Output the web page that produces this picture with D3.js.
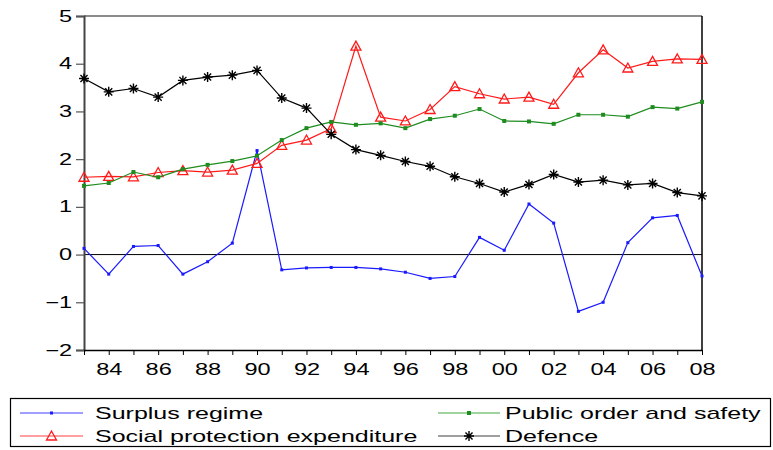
<!DOCTYPE html>
<meta charset="utf-8">
<head>
  <title>Expenditure series 1983-2008</title>
  <style>
    body { margin: 0; background: #fff; }
    text { font-family: Arial, "Liberation Sans", sans-serif; }
  </style>
</head>
<body>
  <script src="https://cdn.jsdelivr.net/npm/d3@7"></script>
  <div id="chart"></div>
  <script>
    // years 1983..2008
    var years = d3.range(1983, 2009);
    var xTickYears = d3.range(1984, 2009, 2);
    var yTicks = [-2, -1, 0, 1, 2, 3, 4, 5];

    var surplus = [0.13, -0.41, 0.17, 0.19, -0.41, -0.15, 0.24, 2.18, -0.32, -0.28,
                   -0.27, -0.27, -0.30, -0.37, -0.50, -0.46, 0.36, 0.09, 1.06, 0.66,
                   -1.19, -1.00, 0.25, 0.77, 0.82, -0.45];
    var social = [1.62, 1.64, 1.63, 1.72, 1.76, 1.73, 1.77, 1.91, 2.29, 2.40,
                  2.64, 4.37, 2.88, 2.80, 3.04, 3.52, 3.37, 3.26, 3.30, 3.15,
                  3.81, 4.29, 3.91, 4.05, 4.10, 4.09];
    var publicOrder = [1.44, 1.50, 1.73, 1.62, 1.79, 1.88, 1.96, 2.07, 2.40, 2.65,
                       2.78, 2.72, 2.75, 2.65, 2.84, 2.91, 3.05, 2.80, 2.79, 2.74,
                       2.93, 2.93, 2.89, 3.09, 3.06, 3.20];
    var defence = [3.69, 3.41, 3.48, 3.30, 3.65, 3.72, 3.76, 3.86, 3.28, 3.07,
                   2.52, 2.20, 2.08, 1.95, 1.85, 1.63, 1.49, 1.31, 1.47, 1.68,
                   1.52, 1.56, 1.46, 1.49, 1.30, 1.23];

    var series = [
      { name: 'Surplus regime', values: surplus, color: '#1a1aff', legendColor: '#7f7fff', marker: 'dot' },
      { name: 'Social protection expenditure', values: social, color: '#ff1a1a', legendColor: '#ff7f7f', marker: 'triangle' },
      { name: 'Public order and safety', values: publicOrder, color: '#1e8c1e', legendColor: '#7fc67f', marker: 'square' },
      { name: 'Defence', values: defence, color: '#000000', legendColor: '#7f7f7f', marker: 'star' }
    ];

    var width = 773, height = 450;
    var margin = { left: 84, top: 16, right: 71, bottom: 100 };
    var stretch = 1.47; // the original font is drawn wide

    function widen(sel) {
      sel.each(function() {
        var w = this.getComputedTextLength();
        if (w > 0) {
          d3.select(this).attr('textLength', w * stretch).attr('lengthAdjust', 'spacingAndGlyphs');
        }
      });
    }

    var svg = d3.select('#chart').append('svg')
      .attr('width', width)
      .attr('height', height);

    var x = d3.scaleLinear().domain([1983, 2008]).range([margin.left, width - margin.right]);
    var y = d3.scaleLinear().domain([-2, 5]).range([height - margin.bottom, margin.top]);

    // frame: top and right
    svg.append('line').attr('x1', x(1983)).attr('x2', x(2008))
      .attr('y1', y(5)).attr('y2', y(5)).attr('stroke', '#666').attr('stroke-width', 1.5);
    svg.append('line').attr('x1', x(2008)).attr('x2', x(2008))
      .attr('y1', y(5)).attr('y2', y(-2)).attr('stroke', '#000').attr('stroke-width', 1.5);

    // zero line
    svg.append('line').attr('x1', x(1983)).attr('x2', x(2008))
      .attr('y1', y(0)).attr('y2', y(0)).attr('stroke', '#000').attr('stroke-width', 1);

    // y axis
    var yAxis = svg.append('g')
      .attr('transform', 'translate(' + x(1983) + ',0)')
      .call(d3.axisLeft(y).tickValues(yTicks).tickFormat(d3.format('d')).tickSize(8).tickPadding(4));
    yAxis.select('.domain').attr('stroke', '#444').attr('stroke-width', 2);
    yAxis.selectAll('.tick line').attr('stroke', '#555').attr('stroke-width', 1.2);
    yAxis.selectAll('text').attr('font-size', 16).attr('fill', '#000')
      .style('font-family', 'Arial, "Liberation Sans", sans-serif')
      .call(widen);

    // x axis
    var xAxis = svg.append('g')
      .attr('transform', 'translate(0,' + y(-2) + ')')
      .call(d3.axisBottom(x).tickValues(years).tickSize(5).tickSizeOuter(0)
        .tickFormat(function(d) { return xTickYears.indexOf(d) >= 0 ? String(d).slice(2) : ''; }));
    xAxis.select('.domain').attr('stroke', '#000').attr('stroke-width', 1.5);
    xAxis.selectAll('.tick line').attr('stroke', '#000');
    xAxis.selectAll('text').attr('font-size', 16).attr('fill', '#000').attr('dy', '1.05em')
      .style('font-family', 'Arial, "Liberation Sans", sans-serif')
      .call(widen);

    var line = d3.line()
      .x(function(d, i) { return x(years[i]); })
      .y(function(d) { return y(d); });

    function drawMarker(g, type, color, cx, cy) {
      if (type === 'dot') {
        g.append('rect').attr('x', cx - 1.5).attr('y', cy - 1.5).attr('width', 3).attr('height', 3)
          .attr('fill', color);
      } else if (type === 'square') {
        g.append('rect').attr('x', cx - 2).attr('y', cy - 2).attr('width', 4).attr('height', 4)
          .attr('fill', color);
      } else if (type === 'triangle') {
        g.append('path')
          .attr('d', 'M' + cx + ',' + (cy - 5) + 'L' + (cx + 5) + ',' + (cy + 4) + 'L' + (cx - 5) + ',' + (cy + 4) + 'Z')
          .attr('fill', 'none').attr('stroke', color).attr('stroke-width', 1.3);
      } else if (type === 'star') {
        var r = 5;
        var p = '';
        [0, 45, 90, 135].forEach(function(a) {
          var rad = a * Math.PI / 180;
          var dx = r * Math.cos(rad), dy = r * Math.sin(rad);
          p += 'M' + (cx - dx) + ',' + (cy - dy) + 'L' + (cx + dx) + ',' + (cy + dy);
        });
        g.append('path').attr('d', p).attr('stroke', color).attr('stroke-width', 1.4).attr('fill', 'none');
      }
    }

    var plot = svg.append('g');
    series.forEach(function(s) {
      plot.append('path')
        .attr('d', line(s.values))
        .attr('fill', 'none')
        .attr('stroke', s.color)
        .attr('stroke-width', 1.2);
      var mg = plot.append('g');
      s.values.forEach(function(v, i) {
        drawMarker(mg, s.marker, s.color, x(years[i]), y(v));
      });
    });

    // legend
    var legend = svg.append('g');
    legend.append('rect')
      .attr('x', 10.5).attr('y', 398.5).attr('width', 760).attr('height', 48)
      .attr('fill', '#fff').attr('stroke', '#000').attr('stroke-width', 1.2);

    var legendPos = [
      { lx1: 20, lx2: 83, tx: 95, ty: 413 },
      { lx1: 20, lx2: 83, tx: 95, ty: 436 },
      { lx1: 438, lx2: 500, tx: 505, ty: 413 },
      { lx1: 438, lx2: 500, tx: 505, ty: 436 }
    ];
    series.forEach(function(s, i) {
      var p = legendPos[i];
      legend.append('line').attr('x1', p.lx1).attr('x2', p.lx2).attr('y1', p.ty).attr('y2', p.ty)
        .attr('stroke', s.legendColor).attr('stroke-width', 1.5);
      drawMarker(legend, s.marker, s.color, (p.lx1 + p.lx2) / 2, p.ty);
      legend.append('text')
        .attr('x', p.tx).attr('y', p.ty).attr('dy', '0.36em')
        .attr('font-size', 17)
        .text(s.name)
        .call(widen);
    });
  </script>
</body>
